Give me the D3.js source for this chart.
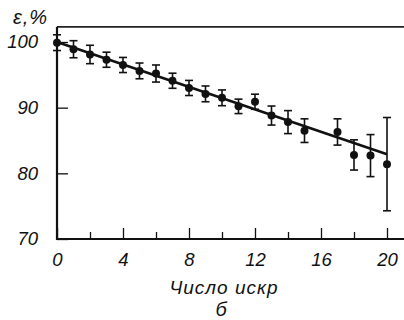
<!DOCTYPE html>
<html>
<head>
<meta charset="utf-8">
<script src="https://cdn.jsdelivr.net/npm/d3@7"></script>
<style>
  body { margin: 0; background: #fff; }
  text { font-family: 'Liberation Sans', Arial, sans-serif; font-style: italic; fill: #111; }
</style>
</head>
<body>
<div id="svg"></div>
<script>
let w = 404;
let h = 320;

// data
let sparks = [0, 1, 2, 3, 4, 5, 6, 7, 8, 9, 10, 11, 12, 13, 14, 15, 17, 18, 19, 20];
let eps    = [99.9, 98.9, 98.1, 97.3, 96.5, 95.6, 95.2, 94.1, 93.0, 92.1, 91.5, 90.2, 90.9, 88.8, 87.8, 86.5, 86.3, 82.8, 82.7, 81.4];
let errs   = [1.2, 1.3, 1.4, 1.15, 1.15, 1.2, 1.3, 1.15, 1.15, 1.2, 1.2, 1.1, 1.15, 1.45, 1.75, 1.8, 2.0, 2.3, 3.2, 7.1];
let fitX   = [0, 20];
let fitY   = [100, 82.9];
let xMajor = [0, 4, 8, 12, 16, 20];
let xMinor = [2, 6, 10, 14, 18];
let yMajor = [70, 80, 90, 100];

let svg = d3.select('#svg')
  .append('svg')
  .attr('width', w)
  .attr('height', h);

let xScale = d3.scaleLinear().domain([0, 20]).range([57, 387]);
let yScale = d3.scaleLinear().domain([70, 100]).range([239, 42]);

// top frame line
svg.append('line')
  .attr('x1', 57).attr('x2', 404)
  .attr('y1', yScale(102.3)).attr('y2', yScale(102.3))
  .style('stroke', '#222').style('stroke-width', 1.6);

// minor x ticks
let xMinorAxis = d3.axisBottom(xScale).tickValues(xMinor).tickSize(-7).tickFormat('');
svg.append('g')
  .attr('transform', 'translate(0,239)')
  .call(xMinorAxis)
  .call(g => g.select('.domain').remove());

let xAxis = d3.axisBottom(xScale).tickValues(xMajor).tickSize(-11).tickPadding(14)
  .tickFormat(d3.format('d'));
let gx = svg.append('g')
  .attr('transform', 'translate(0,239)')
  .call(xAxis);
gx.select('.domain').remove();
gx.selectAll('text').style('font-size', '18.5px').style('font-family', null).attr('fill', null);

svg.append('line')
  .attr('x1', 56).attr('x2', 404).attr('y1', 239).attr('y2', 239)
  .style('stroke', '#111').style('stroke-width', 2.2);

let yAxis = d3.axisLeft(yScale).tickValues(yMajor).tickSize(-11).tickPadding(19);
let gy = svg.append('g')
  .attr('transform', 'translate(57,0)')
  .call(yAxis);
gy.select('.domain').remove();
gy.selectAll('text').style('font-size', '18.5px').style('font-family', null).attr('fill', null);

svg.append('line')
  .attr('x1', 57).attr('x2', 57).attr('y1', yScale(102.3)).attr('y2', 240)
  .style('stroke', '#111').style('stroke-width', 2.2);

svg.selectAll('.tick line').style('stroke', '#111').style('stroke-width', 1.3);

// fitted line
svg.append('line')
  .attr('x1', xScale(fitX[0])).attr('y1', yScale(fitY[0]))
  .attr('x2', xScale(fitX[1])).attr('y2', yScale(fitY[1]))
  .style('stroke', '#111').style('stroke-width', 2.6);

// error bars
let bars = svg.selectAll('.err')
  .data(sparks)
  .enter()
  .append('g')
  .attr('class', 'err');
bars.append('line')
  .attr('x1', (d) => xScale(d)).attr('x2', (d) => xScale(d))
  .attr('y1', (d, i) => yScale(eps[i] + errs[i]))
  .attr('y2', (d, i) => yScale(eps[i] - errs[i]))
  .style('stroke', '#111').style('stroke-width', 1.6);
bars.selectAll('.cap')
  .data((d, i) => [[d, eps[i] + errs[i]], [d, eps[i] - errs[i]]])
  .enter()
  .append('line')
  .attr('x1', (d) => xScale(d[0]) - 4).attr('x2', (d) => xScale(d[0]) + 4)
  .attr('y1', (d) => yScale(d[1])).attr('y2', (d) => yScale(d[1]))
  .style('stroke', '#111').style('stroke-width', 1.6);

svg.selectAll('.dot')
  .data(sparks)
  .enter()
  .append('circle')
  .attr('class', 'dot')
  .attr('cx', (d) => xScale(d))
  .attr('cy', (d, i) => yScale(eps[i]))
  .attr('r', 4)
  .style('fill', '#111');

// labels
svg.append('text')
  .text('ε,%')
  .attr('x', 13).attr('y', 24)
  .style('font-size', '20px')
  .style('letter-spacing', '1px');

svg.append('text')
  .text('Число искр')
  .attr('x', 224).attr('y', 294)
  .attr('text-anchor', 'middle')
  .style('font-size', '19px')
  .style('letter-spacing', '1px');

svg.append('text')
  .text('б')
  .attr('x', 221).attr('y', 316)
  .attr('text-anchor', 'middle')
  .style('font-size', '20px');
</script>
</body>
</html>
